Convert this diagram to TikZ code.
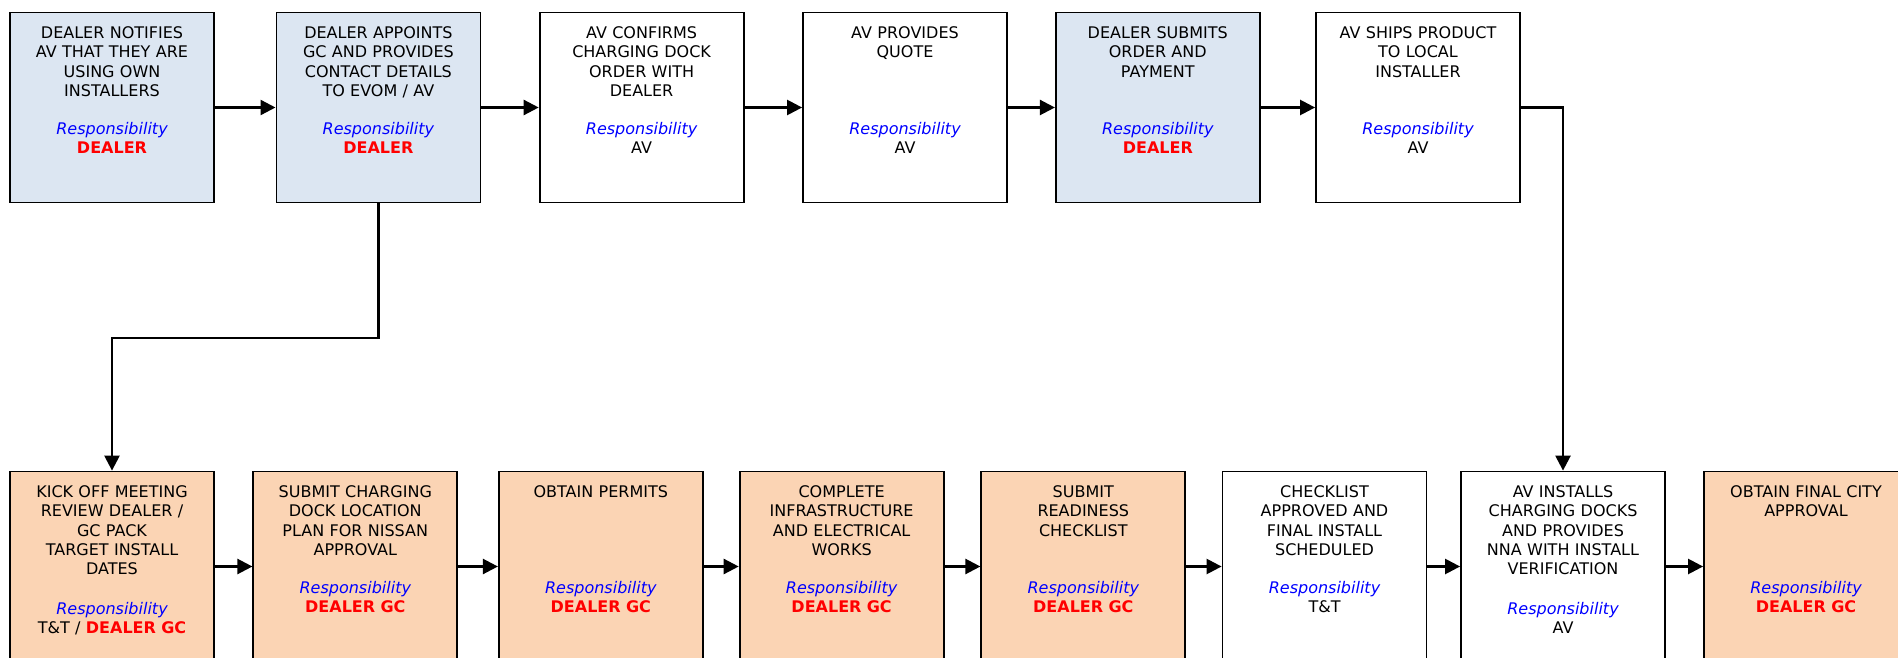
\documentclass[tikz,border=0pt]{standalone}
\usepackage{fontspec}
\setmainfont{DejaVu Sans}[ItalicFont={DejaVu Sans Oblique}, BoldFont={DejaVu Sans Bold}]
\usetikzlibrary{arrows.meta}
\definecolor{dealerFill}{HTML}{DCE6F2}
\definecolor{gcFill}{HTML}{FBD4B4}
\definecolor{respBlue}{HTML}{0000FF}
\definecolor{ownerRed}{HTML}{FF0000}
\newcommand{\resp}{{\color{respBlue}\itshape Responsibility}}
\newcommand{\owner}[1]{{\color{ownerRed}\bfseries #1}}

\begin{document}
\begin{tikzpicture}[x=1pt, y=1pt,
  stepbox/.style={draw=black, line width=1.8pt, minimum width=204pt, minimum height=190pt, inner sep=0pt},
  dealerstep/.style={stepbox, fill=dealerFill},
  gcstep/.style={stepbox, fill=gcFill},
  avstep/.style={stepbox, fill=white},
  steptext/.style={anchor=base, text width=200pt, align=center, inner sep=0pt,
    font=\fontsize{16pt}{19.3pt}\selectfont},
  flow/.style={line width=2.4pt, -{Triangle[length=15pt, width=15pt]}}]
  \useasboundingbox (0,0) rectangle (1898,-658);
  \clip (0,0) rectangle (1898,-658);

  \node[dealerstep] (notify) at (112,-107.5) {};
  \node[dealerstep] (appoint) at (378.4,-107.5) {};
  \node[avstep] (confirm) at (641.6,-107.5) {};
  \node[avstep] (quote) at (905,-107.5) {};
  \node[dealerstep] (order) at (1157.8,-107.5) {};
  \node[avstep] (ship) at (1418,-107.5) {};

  \node[gcstep] (kickoff) at (112,-566.5) {};
  \node[gcstep] (plan) at (355.3,-566.5) {};
  \node[gcstep] (permits) at (600.8,-566.5) {};
  \node[gcstep] (works) at (841.6,-566.5) {};
  \node[gcstep] (readiness) at (1083.3,-566.5) {};
  \node[avstep] (approved) at (1324.5,-566.5) {};
  \node[avstep] (install) at (1563,-566.5) {};
  \node[gcstep] (cityok) at (1806,-566.5) {};

  \node[steptext] (notify-t) at ([yshift=-27pt]notify.north) {DEALER NOTIFIES\\AV THAT THEY ARE\\USING OWN\\INSTALLERS};
  \node[steptext] (notify-r) at ([yshift=-123pt]notify.north) {\resp\\\owner{DEALER}};
  \node[steptext] (appoint-t) at ([yshift=-27pt]appoint.north) {DEALER APPOINTS\\GC AND PROVIDES\\CONTACT DETAILS\\TO EVOM / AV};
  \node[steptext] (appoint-r) at ([yshift=-123pt]appoint.north) {\resp\\\owner{DEALER}};
  \node[steptext] (confirm-t) at ([yshift=-27pt]confirm.north) {AV CONFIRMS\\CHARGING DOCK\\ORDER WITH\\DEALER};
  \node[steptext] (confirm-r) at ([yshift=-123pt]confirm.north) {\resp\\AV};
  \node[steptext] (quote-t) at ([yshift=-27pt]quote.north) {AV PROVIDES\\QUOTE};
  \node[steptext] (quote-r) at ([yshift=-123pt]quote.north) {\resp\\AV};
  \node[steptext] (order-t) at ([yshift=-27pt]order.north) {DEALER SUBMITS\\ORDER AND\\PAYMENT};
  \node[steptext] (order-r) at ([yshift=-123pt]order.north) {\resp\\\owner{DEALER}};
  \node[steptext] (ship-t) at ([yshift=-27pt]ship.north) {AV SHIPS PRODUCT\\TO LOCAL\\INSTALLER};
  \node[steptext] (ship-r) at ([yshift=-123pt]ship.north) {\resp\\AV};

  \node[steptext] (kickoff-t) at ([yshift=-27pt]kickoff.north) {KICK OFF MEETING\\REVIEW DEALER /\\GC PACK\\TARGET INSTALL\\DATES};
  \node[steptext] (kickoff-r) at ([yshift=-144pt]kickoff.north) {\resp\\T\&T / \owner{DEALER GC}};
  \node[steptext] (plan-t) at ([yshift=-27pt]plan.north) {SUBMIT CHARGING\\DOCK LOCATION\\PLAN FOR NISSAN\\APPROVAL};
  \node[steptext] (plan-r) at ([yshift=-123pt]plan.north) {\resp\\\owner{DEALER GC}};
  \node[steptext] (permits-t) at ([yshift=-27pt]permits.north) {OBTAIN PERMITS};
  \node[steptext] (permits-r) at ([yshift=-123pt]permits.north) {\resp\\\owner{DEALER GC}};
  \node[steptext] (works-t) at ([yshift=-27pt]works.north) {COMPLETE\\INFRASTRUCTURE\\AND ELECTRICAL\\WORKS};
  \node[steptext] (works-r) at ([yshift=-123pt]works.north) {\resp\\\owner{DEALER GC}};
  \node[steptext] (readiness-t) at ([yshift=-27pt]readiness.north) {SUBMIT\\READINESS\\CHECKLIST};
  \node[steptext] (readiness-r) at ([yshift=-123pt]readiness.north) {\resp\\\owner{DEALER GC}};
  \node[steptext] (approved-t) at ([yshift=-27pt]approved.north) {CHECKLIST\\APPROVED AND\\FINAL INSTALL\\SCHEDULED};
  \node[steptext] (approved-r) at ([yshift=-123pt]approved.north) {\resp\\T\&T};
  \node[steptext] (install-t) at ([yshift=-27pt]install.north) {AV INSTALLS\\CHARGING DOCKS\\AND PROVIDES\\NNA WITH INSTALL\\VERIFICATION};
  \node[steptext] (install-r) at ([yshift=-144pt]install.north) {\resp\\AV};
  \node[steptext] (cityok-t) at ([yshift=-27pt]cityok.north) {OBTAIN FINAL CITY\\APPROVAL};
  \node[steptext] (cityok-r) at ([yshift=-123pt]cityok.north) {\resp\\\owner{DEALER GC}};

  \draw[flow] (notify) -- (appoint);
  \draw[flow] (appoint) -- (confirm);
  \draw[flow] (confirm) -- (quote);
  \draw[flow] (quote) -- (order);
  \draw[flow] (order) -- (ship);
  \draw[flow] (appoint.south) -- ++(0,-134.5) -| (kickoff.north);
  \draw[flow] (ship.east) -| (install.north);
  \draw[flow] (kickoff) -- (plan);
  \draw[flow] (plan) -- (permits);
  \draw[flow] (permits) -- (works);
  \draw[flow] (works) -- (readiness);
  \draw[flow] (readiness) -- (approved);
  \draw[flow] (approved) -- (install);
  \draw[flow] (install) -- (cityok);
\end{tikzpicture}
\end{document}
